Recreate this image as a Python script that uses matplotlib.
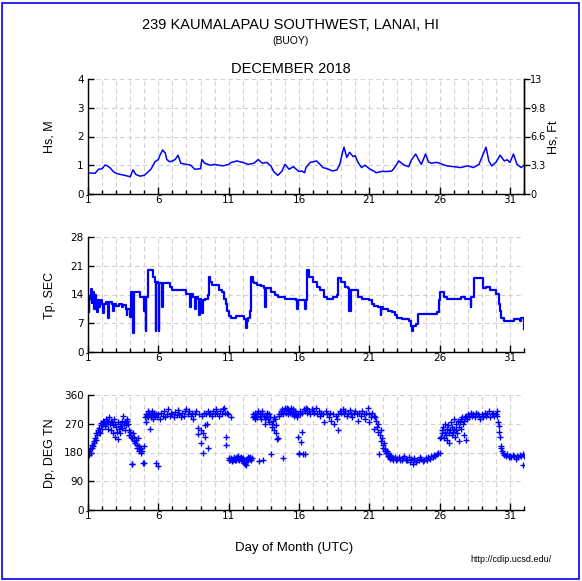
import matplotlib
matplotlib.use("Agg")
import matplotlib.pyplot as plt
from matplotlib.patches import Rectangle
import numpy as np

# ---------------- data ----------------
days_major = [1, 6, 11, 16, 21, 26, 31]

hs_day = [1.0, 1.2, 1.5, 1.75, 2.0, 2.2, 2.3, 2.55, 2.8, 3.0, 3.3, 3.6, 4.0, 4.2, 4.4, 4.7,
          5.0, 5.3, 5.5, 5.75, 6.0, 6.1, 6.3, 6.5, 6.6, 6.8, 7.0, 7.2, 7.4, 7.6, 8.0, 8.3,
          8.6, 9.0, 9.1, 9.3, 9.7, 10.0, 10.3, 10.6, 11.0, 11.2, 11.6, 11.8, 12.0, 12.4,
          12.8, 13.1, 13.4, 13.7, 14.0, 14.2, 14.5, 14.8, 15.0, 15.3, 15.6, 16.0, 16.2,
          16.4, 16.5, 16.8, 17.0, 17.25, 17.5, 17.7, 18.0, 18.2, 18.4, 18.7, 18.9, 19.1,
          19.2, 19.4, 19.6, 19.85, 20.0, 20.2, 20.45, 20.7, 21.0, 21.3, 21.5, 21.9, 22.2,
          22.6, 22.8, 23.1, 23.3, 23.5, 23.8, 24.0, 24.3, 24.5, 24.7, 25.0, 25.2, 25.4,
          25.8, 26.0, 26.2, 26.5, 27.0, 27.5, 28.0, 28.4, 28.8, 29.0, 29.3, 29.5, 29.7,
          30.0, 30.3, 30.6, 30.8, 31.0, 31.25, 31.5, 31.8, 32.0]
hs_m = [0.74, 0.73, 0.72, 0.86, 0.88, 1.0, 1.0, 0.92, 0.78, 0.72, 0.68, 0.65, 0.6, 0.84,
        0.68, 0.62, 0.65, 0.78, 0.88, 1.12, 1.2, 1.33, 1.53, 1.42, 1.2, 1.12, 1.15, 1.2,
        1.35, 1.07, 1.03, 1.0, 0.86, 0.88, 1.2, 1.07, 1.0, 1.03, 1.0, 0.98, 1.03, 1.1,
        1.15, 1.12, 1.1, 1.03, 1.07, 1.2, 1.07, 1.1, 0.98, 0.78, 0.65, 0.8, 1.03, 0.86,
        0.95, 0.78, 0.8, 0.74, 0.92, 1.1, 1.12, 1.15, 1.03, 0.92, 0.88, 0.84, 0.8, 0.84,
        1.03, 1.45, 1.63, 1.27, 1.45, 1.3, 1.33, 1.1, 0.92, 1.0, 0.88, 0.8, 0.74, 0.79,
        0.78, 0.8, 0.92, 1.15, 1.07, 1.0, 0.95, 1.19, 1.39, 1.2, 1.03, 1.39, 1.12, 1.07,
        1.1, 1.07, 1.03, 0.98, 0.95, 0.92, 0.98, 0.92, 1.03, 1.27, 1.63, 1.15, 0.98, 1.1,
        1.35, 1.15, 1.19, 1.1, 1.39, 1.03, 0.92, 1.0]

tp_day = [1.0, 1.05, 1.1, 1.2, 1.25, 1.3, 1.4, 1.45, 1.5, 1.6, 1.65, 1.7, 1.8, 1.85, 2.0,
          2.1, 2.15, 2.3, 2.45, 2.5, 2.7, 2.8, 2.85, 3.0, 3.2, 3.4, 3.5, 3.7, 3.75, 3.8,
          4.0, 4.02, 4.05, 4.2, 4.22, 4.25, 4.5, 4.7, 4.9, 5.0, 5.05, 5.1, 5.15, 5.25,
          5.3, 5.55, 5.6, 5.75, 5.8, 5.85, 6.0, 6.02, 6.05, 6.2, 6.25, 6.3, 6.5, 6.8, 7.0,
          7.5, 7.8, 8.0, 8.2, 8.25, 8.3, 8.5, 8.6, 8.65, 8.8, 8.9, 8.95, 9.0, 9.1, 9.15,
          9.3, 9.5, 9.6, 9.7, 9.8, 10.0, 10.3, 10.5, 10.7, 10.8, 10.9, 11.0, 11.2, 11.5,
          12.0, 12.1, 12.2, 12.25, 12.3, 12.4, 12.5, 12.55, 12.6, 12.7, 12.8, 13.0, 13.3,
          13.5, 13.6, 13.65, 14.0, 14.3, 14.5, 15.0, 15.5, 15.8, 15.85, 15.9, 16.0, 16.4,
          16.45, 16.5, 16.6, 16.7, 16.8, 17.0, 17.3, 17.5, 17.8, 18.0, 18.4, 18.7, 18.8,
          19.0, 19.3, 19.5, 19.55, 19.6, 19.65, 19.7, 20.0, 20.2, 20.5, 21.0, 21.2, 21.3,
          21.6, 21.8, 21.85, 22.0, 22.3, 22.6, 22.8, 23.0, 23.3, 23.5, 23.8, 24.0, 24.05,
          24.1, 24.3, 24.45, 24.5, 25.0, 25.5, 25.8, 25.95, 26.05, 26.3, 26.5, 27.0, 27.5,
          27.8, 28.0, 28.2, 28.25, 28.4, 28.45, 28.5, 29.0, 29.1, 29.3, 29.6, 30.0, 30.2,
          30.3, 30.4, 30.6, 31.0, 31.3, 31.5, 31.7, 31.8, 32.0, 32.02]
tp_s = [13.4, 9.7, 13.0, 15.3, 12.0, 14.6, 13.8, 10.5, 13.8, 12.6, 9.7, 12.6, 11.0, 12.6,
        11.7, 9.5, 11.7, 12.1, 8.4, 12.1, 11.7, 10.0, 11.7, 11.3, 11.7, 11.0, 11.5, 10.5,
        9.0, 10.5, 10.5, 8.5, 14.5, 14.5, 4.7, 14.5, 14.5, 13.4, 13.4, 10.0, 13.4, 5.1,
        13.4, 13.4, 20.0, 20.0, 18.3, 17.0, 5.1, 17.0, 16.7, 5.1, 16.7, 16.7, 11.0, 16.7,
        16.7, 15.9, 15.0, 15.0, 15.0, 14.2, 14.2, 11.0, 14.2, 13.4, 10.5, 13.4, 13.0, 9.0,
        13.0, 12.6, 9.5, 12.6, 13.0, 13.8, 18.3, 17.0, 16.3, 16.3, 15.0, 14.6, 13.0, 11.7,
        10.0, 8.8, 8.4, 8.7, 8.7, 8.0, 7.2, 5.8, 7.6, 8.4, 8.4, 10.0, 18.3, 17.0, 16.7,
        16.4, 16.0, 15.5, 11.0, 15.5, 14.6, 14.0, 13.4, 13.0, 13.0, 12.6, 10.5, 12.6, 12.6,
        12.6, 10.5, 12.6, 20.0, 18.3, 18.3, 17.1, 15.9, 15.0, 13.4, 13.0, 13.4, 13.8, 17.9,
        17.1, 15.9, 15.5, 10.0, 15.0, 10.0, 15.0, 15.0, 13.4, 13.0, 12.6, 11.7, 11.3, 10.9,
        9.0, 10.9, 10.5, 10.1, 9.7, 9.0, 8.4, 8.0, 8.0, 7.6, 6.4, 5.1, 6.4, 6.8, 9.3, 9.3,
        9.3, 9.3, 9.8, 12.6, 14.5, 13.4, 13.0, 13.0, 13.4, 13.0, 13.0, 11.0, 13.4, 13.4,
        17.9, 18.0, 17.9, 15.5, 15.9, 15.0, 14.2, 11.7, 10.0, 8.4, 7.6, 7.6, 8.0, 8.0, 7.6,
        8.4, 7.2, 5.5]

dp_day = [1.0, 1.05, 1.1, 1.15, 1.2, 1.25, 1.3, 1.35, 1.4, 1.45, 1.5, 1.55, 1.6, 1.65, 1.7,
          1.75, 1.8, 1.85, 1.9, 1.95, 2.0, 2.05, 2.1, 2.15, 2.2, 2.25, 2.3, 2.35, 2.4, 2.45,
          2.5, 2.55, 2.6, 2.65, 2.7, 2.75, 2.8, 2.85, 2.9, 2.95, 3.0, 3.05, 3.1, 3.15, 3.2,
          3.25, 3.3, 3.35, 3.4, 3.45, 3.5, 3.55, 3.6, 3.65, 3.7, 3.75, 3.8, 3.85, 3.9, 3.95,
          4.0, 4.05, 4.1, 4.12, 4.15, 4.2, 4.25, 4.3, 4.35, 4.4, 4.45, 4.5, 4.55, 4.6, 4.65,
          4.7, 4.75, 4.8, 4.85, 4.9, 4.95, 5.0, 5.05, 5.1, 5.15, 5.2, 5.25, 5.3, 5.35, 5.4,
          5.45, 5.5, 5.55, 5.6, 5.65, 5.7, 5.75, 5.8, 5.85, 5.9, 5.95, 6.0, 6.1, 6.2, 6.3,
          6.4, 6.5, 6.6, 6.7, 6.8, 6.9, 7.0, 7.1, 7.2, 7.3, 7.4, 7.5, 7.6, 7.7, 7.8, 7.9,
          8.0, 8.1, 8.2, 8.3, 8.4, 8.5, 8.6, 8.7, 8.8, 8.85, 8.9, 9.0, 9.05, 9.1, 9.15, 9.2,
          9.25, 9.3, 9.35, 9.4, 9.45, 9.5, 9.55, 9.6, 9.7, 9.8, 9.9, 10.0, 10.1, 10.2, 10.3,
          10.4, 10.5, 10.6, 10.7, 10.75, 10.8, 10.82, 10.9, 10.95,
          11.0, 11.05, 11.1, 11.15, 11.2, 11.2, 11.25, 11.3, 11.35, 11.4, 11.45, 11.5, 11.55,
          11.6, 11.65, 11.7, 11.75, 11.8, 11.85, 11.9, 11.95, 12.0, 12.05, 12.1, 12.15, 12.2,
          12.25, 12.3, 12.35, 12.4, 12.45, 12.5, 12.55, 12.6, 12.65,
          12.7, 12.75, 12.8, 12.85, 12.9, 12.95, 13.0, 13.05, 13.1, 13.15, 13.2, 13.25, 13.3,
          13.35, 13.4, 13.45, 13.5, 13.55, 13.6, 13.65, 13.7, 13.75, 13.8, 13.85, 13.9,
          13.95, 14.0, 14.05, 14.1, 14.15, 14.2, 14.25, 14.3, 14.35, 14.4, 14.45, 14.5,
          14.55, 14.6, 14.7, 14.75, 14.8, 14.85, 14.9, 14.95, 15.0, 15.05, 15.1, 15.15, 15.2,
          15.25, 15.3, 15.35, 15.4, 15.45, 15.5, 15.55, 15.6, 15.65, 15.7, 15.75, 15.8,
          15.85, 15.9, 15.95, 16.0, 16.02, 16.05, 16.1, 16.15, 16.2, 16.25, 16.3, 16.35,
          16.4, 16.45, 16.5, 16.55, 16.6, 16.7, 16.8, 16.9, 17.0, 17.1, 17.2, 17.3, 17.4,
          17.5, 17.6, 17.7, 17.8, 17.9, 18.0, 18.1, 18.2, 18.3, 18.4, 18.5, 18.6, 18.7,
          18.75, 18.8, 18.9, 19.0, 19.1, 19.2, 19.3, 19.4, 19.5, 19.6, 19.7, 19.8, 19.9,
          20.0, 20.1, 20.2, 20.3, 20.4, 20.5, 20.6, 20.7, 20.8, 20.9, 20.95, 21.0, 21.1,
          21.2, 21.3, 21.35, 21.4, 21.5, 21.55, 21.6, 21.65, 21.7, 21.75, 21.8, 21.85, 21.9,
          21.95, 22.0, 22.05, 22.1, 22.15, 22.2, 22.25, 22.3, 22.35, 22.4, 22.45, 22.5,
          22.55, 22.6, 22.7, 22.8, 22.9, 23.0, 23.1, 23.2, 23.3, 23.4, 23.5, 23.6, 23.7,
          23.8, 23.9, 24.0, 24.1, 24.15, 24.2, 24.3, 24.4, 24.5, 24.6, 24.7, 24.8, 24.9,
          25.0, 25.1, 25.2, 25.3, 25.4, 25.5, 25.6, 25.7, 25.8, 25.9, 26.0, 26.05, 26.1,
          26.15, 26.2, 26.25, 26.3, 26.35, 26.4, 26.45, 26.5, 26.55, 26.6, 26.65, 26.7,
          26.75, 26.8, 26.85, 26.9, 26.95, 27.0, 27.05, 27.1, 27.15, 27.2, 27.25, 27.3,
          27.35, 27.4, 27.45, 27.5, 27.55, 27.6, 27.65, 27.7, 27.75, 27.8, 27.85, 27.9,
          27.95, 28.0, 28.1, 28.2, 28.3, 28.4, 28.5, 28.6, 28.7, 28.8, 28.9, 29.0, 29.1,
          29.2, 29.3, 29.4, 29.5, 29.6, 29.7, 29.8, 29.9, 30.0, 30.05, 30.1, 30.15, 30.2,
          30.25, 30.3, 30.35, 30.4, 30.45, 30.5, 30.6, 30.7, 30.8, 30.9, 31.0, 31.1, 31.2,
          31.3, 31.4, 31.5, 31.6, 31.7, 31.8, 31.9, 31.95, 32.0]
dp_deg = [178, 185, 172, 190, 180, 195, 205, 200, 215, 210, 225, 220, 240, 235, 250,
          245, 258, 240, 265, 272, 255, 280, 268, 275, 262, 285, 270, 280, 255, 275,
          290, 268, 280, 250, 275, 265, 240, 285, 270, 230, 260, 245, 275, 222, 255,
          262, 240, 270, 258, 280, 295, 268, 250, 275, 265, 285, 280, 270, 250, 235,
          245, 230, 143, 143, 225, 240, 215, 230, 210, 220, 205, 195, 225, 185, 200,
          190, 180, 195, 185, 146, 148, 200, 290, 300, 275, 295, 310, 292, 305, 254,
          300, 290, 310, 298, 285, 305, 295, 300, 146, 290, 139, 300, 285, 305, 295,
          310, 290, 300, 315, 295, 305, 300, 290, 308, 298, 312, 300, 290, 305, 295, 310,
          315, 300, 310, 295, 305, 285, 300, 310, 258, 238, 300, 250, 209, 295, 177, 240,
          305, 230, 265, 300, 270, 310, 195, 300, 305, 295, 310, 300, 315, 305, 295,
          310, 300, 315, 320, 305, 230, 203, 305, 300,
          158, 162, 155, 160, 163, 290, 152, 158, 165, 160, 155, 162, 158,
          165, 160, 168, 155, 162, 158, 165, 160, 155, 162, 148, 145, 140,
          150, 160, 165, 158, 162, 165, 160, 158, 162,
          290, 300, 295, 285, 305, 295, 300, 290, 310, 152, 295, 305, 285,
          300, 310, 158, 295, 285, 270, 290, 300, 305, 285, 275, 300,
          290, 175, 270, 260, 280, 250, 290, 285, 265, 240, 222, 225,
          295, 300, 305, 310, 315, 300, 163, 310, 318, 305, 312, 320, 300,
          315, 310, 305, 320, 310, 300, 315, 305, 295, 310, 300, 305,
          290, 300, 227, 180, 175, 310, 300, 212, 243, 305, 175, 315,
          310, 175, 320, 305, 315, 310, 300, 315, 310, 305, 318, 300, 310,
          295, 305, 300, 275, 310, 300, 290, 305, 280, 300, 270, 295, 285,
          250, 300, 310, 305, 315, 300, 310, 295, 305, 312, 300, 290, 305,
          310, 300, 280, 305, 295, 310, 300, 285, 305, 320, 275, 300, 290,
          305, 295, 255, 290, 280, 260, 245, 270, 175, 235, 250, 215, 225,
          205, 195, 210, 185, 190, 178, 185, 170, 178, 165, 172, 160,
          168, 162, 158, 165, 155, 160, 165, 158, 155, 162, 170, 158, 155,
          165, 150, 160, 144, 155, 162, 150, 158, 155, 165, 160, 152, 158,
          162, 155, 165, 160, 168, 165, 172, 170, 175, 178, 180, 225, 230,
          250, 240, 260, 225, 245, 270, 235, 255, 220, 265, 240, 210,
          250, 275, 235, 260, 245, 285, 255, 230, 270, 250, 240, 280,
          260, 215, 275, 285, 255, 290, 270, 235, 280, 290, 220, 295,
          285, 300, 290, 305, 295, 300, 290, 305, 300, 295, 285, 300, 290,
          305, 295, 300, 310, 290, 300, 305, 295, 300, 310, 295, 275, 264,
          245, 227, 201, 195, 186, 178, 172, 168, 175, 165, 170, 165, 172,
          168, 160, 170, 165, 172, 168, 175, 141, 170]

hs_ticks = [0, 1, 2, 3, 4]
ft_labels = ['0', '3.3', '6.6', '9.8', '13']
tp_ticks = [0, 7, 14, 21, 28]
dp_ticks = [0, 90, 180, 270, 360]

# ---------------- figure ----------------
W, H = 582, 581
fig = plt.figure(figsize=(W / 100, H / 100), dpi=100)
fig.patch.set_facecolor('white')

TFONT = ['Liberation Sans', 'DejaVu Sans']
BLUE = '#0000ff'

fig.add_artist(Rectangle((2 / W, 2 / H), (W - 5) / W, (H - 5) / H, transform=fig.transFigure,
                         fill=False, edgecolor=BLUE, linewidth=1.2))

left = 88 / W
width = 436 / W
ph = 115 / H


def make_ax(top_px):
    return fig.add_axes([left, 1 - (top_px + 115) / H, width, ph])


def style(ax, yticks, right_spine=False):
    ax.set_xlim(1, 32)
    ax.set_ylim(yticks[0], yticks[-1])
    ax.set_xticks(days_major)
    ax.set_xticks(np.arange(1, 33), minor=True)
    ax.set_yticks(yticks)
    gkw = dict(color='#d0d0d0', linestyle=(0, (4, 3)), linewidth=0.8)
    ax.grid(True, which='minor', axis='x', **gkw)
    ax.grid(True, which='major', axis='y', **gkw)
    ax.grid(True, which='major', axis='x', **gkw)
    ax.set_axisbelow(True)
    ax.spines['top'].set_visible(False)
    ax.spines['right'].set_visible(right_spine)
    for s in ['left', 'bottom', 'right']:
        ax.spines[s].set_linewidth(1.0)
    ax.tick_params(axis='x', which='major', direction='in', length=5, width=1, labelsize=7.5,
                   pad=1)
    ax.tick_params(axis='x', which='minor', direction='in', length=3, width=1)
    ax.tick_params(axis='y', which='major', direction='in', length=4, width=1, labelsize=7.5,
                   pad=3)
    ax.tick_params(axis='y', which='minor', left=False)
    for lab in ax.get_xticklabels() + ax.get_yticklabels():
        lab.set_fontfamily('DejaVu Sans')


def ylab(text, x_px, y_px):
    fig.text(x_px / W, 1 - y_px / H, text, rotation=90, ha='center', va='center',
             fontsize=9, family=TFONT)


# Hs panel
ax1 = make_ax(79)
ax1.plot(hs_day, hs_m, color=BLUE, linewidth=1.1)
style(ax1, hs_ticks, right_spine=True)
ax1r = ax1.twinx()
ax1r.set_ylim(0, 4)
ax1r.set_yticks(hs_ticks)
ax1r.set_yticklabels(ft_labels)
ax1r.tick_params(axis='y', direction='out', length=4, width=1, labelsize=7, pad=0.5)
for s in ['top', 'left', 'bottom']:
    ax1r.spines[s].set_visible(False)
ax1r.spines['right'].set_linewidth(1.0)
ylab('Hs, M', 50, 137)
ylab('Hs, Ft', 553, 137)

# Tp panel
ax2 = make_ax(237)
ax2.plot(tp_day, tp_s, color=BLUE, linewidth=1.6, drawstyle='steps-post')
style(ax2, tp_ticks)
ylab('Tp, SEC', 50, 295)

# Dp panel
ax3 = make_ax(395)
ax3.plot(dp_day, dp_deg, linestyle='none', marker='+', markersize=3.8, markeredgewidth=1.0,
         color=BLUE)
style(ax3, dp_ticks)
ylab('Dp, DEG TN', 50, 453)

# Texts
fig.text(0.5, 1 - 25 / H, '239 KAUMALAPAU SOUTHWEST, LANAI, HI', ha='center', va='center',
         fontsize=10.5, family=TFONT)
fig.text(0.5, 1 - 41 / H, '(BUOY)', ha='center', va='center', fontsize=7.5, family=TFONT)
fig.text(0.5, 1 - 69 / H, 'DECEMBER 2018', ha='center', va='center', fontsize=10.5, family=TFONT)
fig.text(294 / W, 1 - 548 / H, 'Day of Month (UTC)', ha='center', va='center', fontsize=9.5,
         family=TFONT)
fig.text(552 / W, 1 - 560 / H, 'http://cdip.ucsd.edu/', ha='right', va='center', fontsize=6.5,
         family=TFONT)

fig.savefig('out.png', dpi=100)
